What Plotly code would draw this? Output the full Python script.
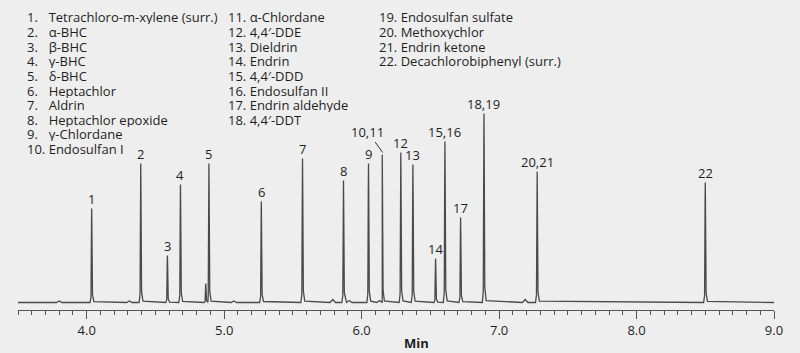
import plotly.graph_objects as go

# ---- data ----
peak_labels = ["1", "2", "3", "4", "", "5", "6", "7", "8", "9", "10,11", "", "12", "13",
               "14", "15,16", "17", "18,19", "20,21", "22"]
peak_rt = [4.036, 4.393, 4.587, 4.682, 4.866, 4.889, 5.270, 5.570, 5.868, 6.050, 6.150, 6.160,
           6.285, 6.373, 6.538, 6.606, 6.720, 6.890, 7.277, 8.500]
peak_height = [94, 139, 47, 118, 19, 139, 101, 144, 122, 139, 148, 134,
               150, 138, 44, 161, 85, 189, 131, 120]

bump_rt = [3.80, 4.31, 5.07, 5.79, 5.91, 6.13, 7.19]
bump_height = [1.5, 1.5, 1.5, 3.0, 2.0, 2.0, 3.0]

x_start, x_end = 3.5, 9.0

compounds = [
    "Tetrachloro-m-xylene (surr.)", "α-BHC", "β-BHC", "γ-BHC", "δ-BHC", "Heptachlor",
    "Aldrin", "Heptachlor epoxide", "γ-Chlordane", "Endosulfan I",
    "α-Chlordane", "4,4′-DDE", "Dieldrin", "Endrin", "4,4′-DDD", "Endosulfan II",
    "Endrin aldehyde", "4,4′-DDT",
    "Endosulfan sulfate", "Methoxychlor", "Endrin ketone", "Decachlorobiphenyl (surr.)",
]
tick_vals = [4.0, 5.0, 6.0, 7.0, 8.0, 9.0]
tick_text = ["4.0", "5.0", "6.0", "7.0", "8.0", "9.0"]

# ---- build trace from peak table ----
features = [(t, h, True) for t, h in zip(peak_rt, peak_height)] + \
           [(t, h, False) for t, h in zip(bump_rt, bump_height)]
features.sort(key=lambda f: f[0])

xs = [x_start]
ys = [0.0]
for t, h, is_peak in features:
    if is_peak:
        pts = [(-0.012, 0.0), (-0.005, 0.06 * h), (-0.0012, 0.85 * h), (0.0, h),
               (0.0015, 0.8 * h), (0.006, 0.08 * h), (0.016, 0.01 * h)]
    else:
        pts = [(-0.02, 0.0), (0.0, h), (0.02, 0.0)]
    for dx, v in pts:
        xx = t + dx
        if xx <= xs[-1]:
            continue
        xs.append(xx)
        ys.append(v)
xs.append(x_end)
ys.append(0.0)

fig = go.Figure()
fig.add_trace(go.Scatter(x=xs, y=ys, mode="lines",
                         line=dict(color="#4a4a4a", width=1.3),
                         hoverinfo="skip", showlegend=False))

FONT = "Open Sans"
TXT = "#1e1e1e"
FS = 13

# peak labels
for lab, t, h in zip(peak_labels, peak_rt, peak_height):
    if not lab:
        continue
    if lab == "10,11":
        fig.add_annotation(x=t + 0.003, y=h + 2, text=lab, showarrow=True,
                           arrowhead=0, arrowwidth=1, arrowcolor="#333333",
                           ax=-15, ay=-21, standoff=0,
                           font=dict(family=FONT, size=FS, color=TXT))
    else:
        fig.add_annotation(x=t, y=h, text=lab, showarrow=False,
                           yanchor="bottom", yshift=-1,
                           font=dict(family=FONT, size=FS, color=TXT))

# compound list (pixel positions converted to paper coords)
L, R, T, B = 18, 26, 0, 43
W, H = 800 - L - R, 353 - T - B


def px(xp):
    return (xp - L) / W


def py(yp):
    return (353 - B - yp) / H


cols = [(0, 10, 26), (10, 18, 227), (18, 22, 378)]
for start, stop, xcol in cols:
    for r, i in enumerate(range(start, stop)):
        yy = 17.5 + 14.6 * r
        num = f"{i + 1}."
        if i + 1 < 10:
            num += "\u2007"
        fig.add_annotation(xref="paper", yref="paper", x=px(xcol), y=py(yy),
                           text=f"{num} {compounds[i]}", showarrow=False,
                           xanchor="left", yanchor="middle", borderpad=0,
                           height=14, valign="middle",
                           font=dict(family=FONT, size=FS, color=TXT))

# axis title
fig.add_annotation(xref="paper", yref="paper", x=px(416), y=py(343),
                   text="<b>Min</b>", showarrow=False, xanchor="center", yanchor="middle",
                   font=dict(family=FONT, size=FS, color=TXT))

fig.update_layout(
    width=800, height=353,
    margin=dict(l=L, r=R, t=T, b=B),
    paper_bgcolor="#eeeeee", plot_bgcolor="#eeeeee",
    xaxis=dict(range=[x_start, x_end], showgrid=False, zeroline=False,
               showline=True, linecolor="#555555", linewidth=1.2,
               ticks="outside", ticklen=8, tickwidth=1.2, tickcolor="#555555",
               tickvals=tick_vals, ticktext=tick_text,
               tickfont=dict(family=FONT, size=FS, color=TXT),
               minor=dict(ticks="outside", ticklen=4, tickwidth=1, tickcolor="#555555",
                          dtick=0.1, tick0=0.0, showgrid=False)),
    yaxis=dict(range=[-7.5, 302.5], visible=False, showgrid=False, zeroline=False),
)

fig.write_html("out.html")
